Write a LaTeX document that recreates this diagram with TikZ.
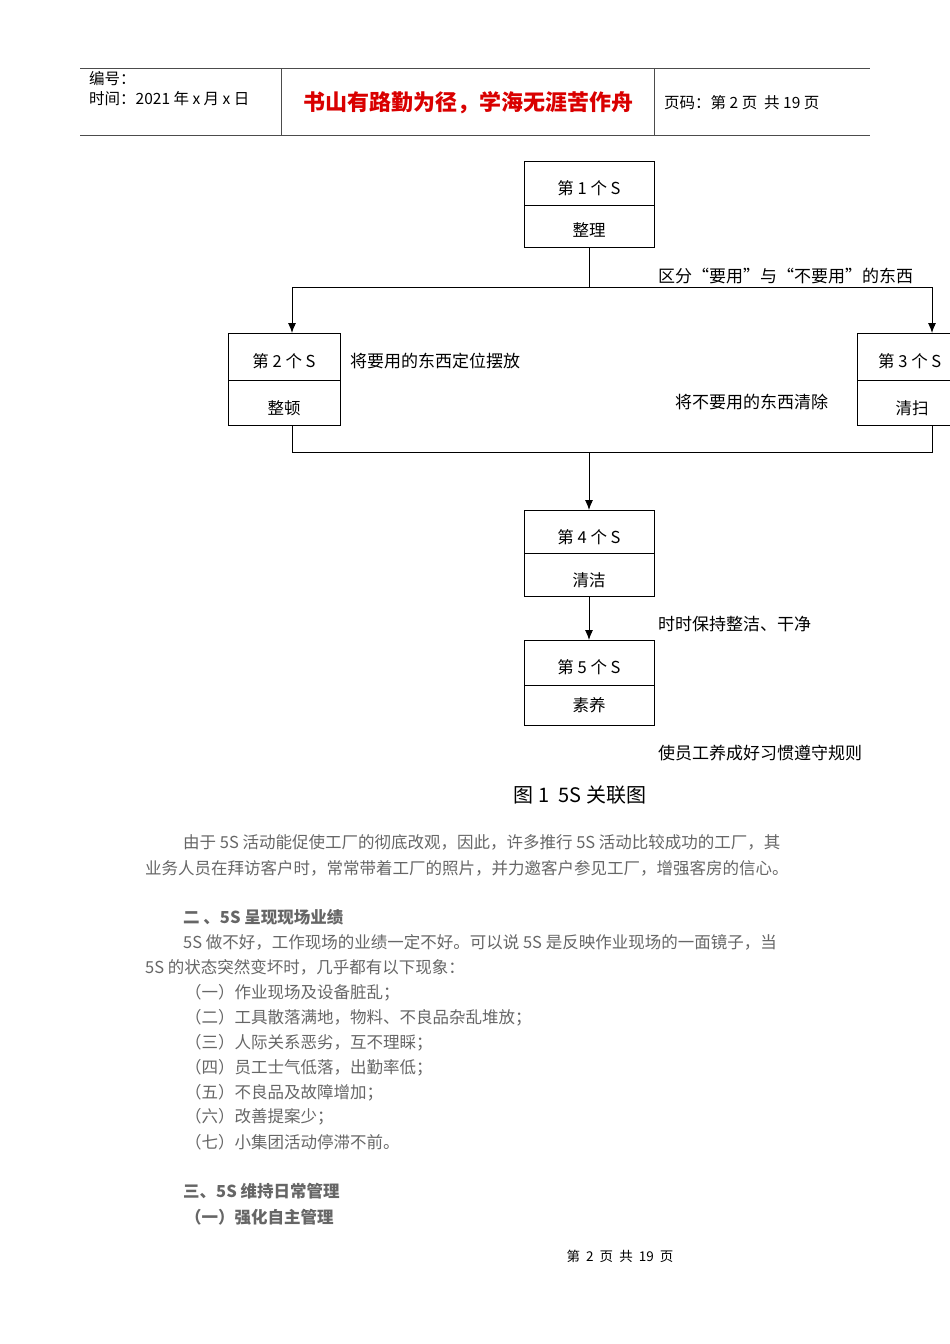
\documentclass[tikz,border=0pt]{standalone}
\usepackage{fontspec}
\setmainfont{Noto Sans CJK SC}
\begin{document}
\begin{tikzpicture}[x=1pt,y=-1pt,
  lbl/.style={anchor=west,inner sep=0pt,font=\fontsize{17}{20}\selectfont},
  bx/.style={inner sep=0pt,font=\fontsize{16.5}{20}\selectfont},
  body/.style={anchor=west,inner sep=0pt,text=black!60,font=\fontsize{16.5}{20}\selectfont},
  bhead/.style={body,font=\fontsize{16.5}{20}\selectfont\bfseries},
  box/.style={draw,line width=0.9pt},
  arr/.style={-{Latex[length=10pt,width=8pt]},line width=0.9pt},
  ln/.style={line width=0.9pt}]
\usetikzlibrary{arrows.meta}
\useasboundingbox (0,0) rectangle (950,1344);
% header
\draw[line width=0.8pt,black!70] (80,68) -- (870,68) (80,135) -- (870,135) (281,68) -- (281,135) (654,68) -- (654,135);
\node[lbl,font=\fontsize{15.5}{18}\selectfont] (h1) at (89,79) {编号：};
\node[lbl,font=\fontsize{15.5}{18}\selectfont] (h2) at (89,99) {时间：2021 年 x 月 x 日};
\node[anchor=center,inner sep=0pt,text=red!85!black,font=\fontsize{22}{26}\selectfont\bfseries] (h3) at (468,103) {书山有路勤为径，学海无涯苦作舟};
\node[lbl,font=\fontsize{15.5}{18}\selectfont] (h4) at (664,103) {页码：第 2 页\ \ 共 19 页};
% boxes
\draw[box] (524,161) rectangle (654,247); \draw[ln] (524,205) -- (654,205);
\node[bx] (b1a) at (589,188) {第 1 个 S};
\node[bx] (b1b) at (589,230) {整理};
\draw[box] (228,333) rectangle (340,425); \draw[ln] (228,380) -- (340,380);
\node[bx] (b2a) at (284,361) {第 2 个 S};
\node[bx] (b2b) at (284,408) {整顿};
\draw[box] (857,333) rectangle (1000,425); \draw[ln] (857,380) -- (1000,380);
\node[bx,anchor=west] (b3a) at (878,361) {第 3 个 S};
\node[bx] (b3b) at (912,408) {清扫};
\draw[box] (524,510) rectangle (654,596); \draw[ln] (524,553) -- (654,553);
\node[bx] (b4a) at (589,537) {第 4 个 S};
\node[bx] (b4b) at (589,580) {清洁};
\draw[box] (524,640) rectangle (654,725); \draw[ln] (524,685) -- (654,685);
\node[bx] (b5a) at (589,667) {第 5 个 S};
\node[bx] (b5b) at (589,705) {素养};
% connectors
\coordinate (c1) at (589,287); \coordinate (cl) at (292,287); \coordinate (cr) at (932,287);
\draw[ln] (589,247) -- (c1); \draw[ln] (cl) -- (cr);
\draw[arr] (cl) -- (292,333); \draw[arr] (cr) -- (932,333);
\coordinate (d1) at (292,452); \coordinate (d2) at (932,452);
\draw[ln] (292,425) -- (d1) -- (d2) -- (932,425);
\draw[arr] (589,452) -- (589,510);
\draw[arr] (589,596) -- (589,640);
% labels
\node[lbl] (l1) at (658,276) {区分“要用”与“不要用”的东西};
\node[lbl] (l2) at (350,361) {将要用的东西定位摆放};
\node[lbl] (l3) at (675,402) {将不要用的东西清除};
\node[lbl] (l4) at (658,624) {时时保持整洁、干净};
\node[lbl] (l5) at (658,753) {使员工养成好习惯遵守规则};
\node[anchor=center,inner sep=0pt,font=\fontsize{20}{24}\selectfont] (cap) at (580,795) {图 1\ \ 5S 关联图};
% body
\node[body] at (183,842) {由于 5S 活动能促使工厂的彻底改观，因此，许多推行 5S 活动比较成功的工厂，其};
\node[body] at (145,868) {业务人员在拜访客户时，常常带着工厂的照片，并力邀客户参见工厂，增强客房的信心。};
\node[bhead] at (183,917) {二 、5S 呈现现场业绩};
\node[body] at (183,942) {5S 做不好，工作现场的业绩一定不好。可以说 5S 是反映作业现场的一面镜子，当};
\node[body] at (145,967) {5S 的状态突然变坏时，几乎都有以下现象：};
\node[body] at (185,993) {（一）作业现场及设备脏乱；};
\node[body] at (185,1018) {（二）工具散落满地，物料、不良品杂乱堆放；};
\node[body] at (185,1043) {（三）人际关系恶劣，互不理睬；};
\node[body] at (185,1068) {（四）员工士气低落，出勤率低；};
\node[body] at (185,1093) {（五）不良品及故障增加；};
\node[body] at (185,1117) {（六）改善提案少；};
\node[body] at (185,1142) {（七）小集团活动停滞不前。};
\node[bhead] at (183,1191) {三、5S 维持日常管理};
\node[bhead] at (185,1217) {（一）强化自主管理};
\node[anchor=center,inner sep=0pt,font=\fontsize{13.5}{16}\selectfont] (ft) at (620,1256) {第\ \ 2\ \ 页\ \ 共\ \ 19\ \ 页};
\end{tikzpicture}
\end{document}
